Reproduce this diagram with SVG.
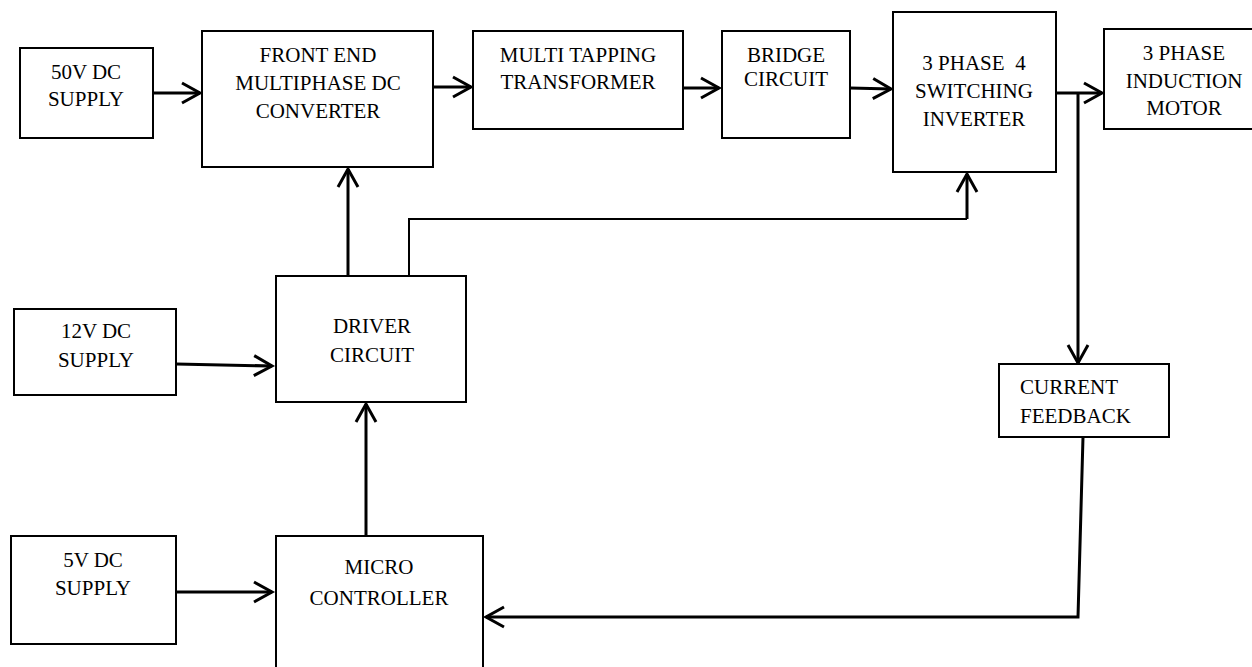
<svg xmlns="http://www.w3.org/2000/svg" width="1252" height="667" viewBox="0 0 1252 667">
<defs>
<style>
.box{fill:#fff;stroke:#000;stroke-width:2}
.t{font-family:"Liberation Serif","Times New Roman",Tinos,"DejaVu Serif",serif;font-size:21px;fill:#000;text-anchor:middle}
.tl{text-anchor:start}
.c{fill:none;stroke:#000;stroke-width:3}
.c2{fill:none;stroke:#000;stroke-width:2}
</style>
<marker id="ah" markerUnits="userSpaceOnUse" markerWidth="24" markerHeight="26" refX="20" refY="12" orient="auto">
<path d="M2,2 L20,12 L2,22" fill="none" stroke="#000" stroke-width="3"/>
</marker>
</defs>
<rect width="1252" height="667" fill="#fff"/>
<g id="connectors">
<line class="c" x1="153" y1="93" x2="200" y2="93" marker-end="url(#ah)"/>
<line class="c" x1="433" y1="87" x2="471" y2="87" marker-end="url(#ah)"/>
<line class="c" x1="683" y1="88" x2="719" y2="88" marker-end="url(#ah)"/>
<line class="c" x1="850" y1="88" x2="891" y2="89" marker-end="url(#ah)"/>
<line class="c" x1="1056" y1="93" x2="1102" y2="93" marker-end="url(#ah)"/>
<line class="c" x1="1078" y1="93" x2="1078" y2="363" marker-end="url(#ah)"/>
<polyline class="c" points="1083,437 1078,617 486,617" marker-end="url(#ah)"/>
<line class="c" x1="348" y1="276" x2="348" y2="169" marker-end="url(#ah)"/>
<polyline class="c2" points="409,276 409,219 967,219"/>
<line class="c" x1="967" y1="219" x2="967" y2="174" marker-end="url(#ah)"/>
<line class="c" x1="176" y1="364" x2="272" y2="366" marker-end="url(#ah)"/>
<line class="c" x1="366" y1="536" x2="366" y2="404" marker-end="url(#ah)"/>
<line class="c" x1="176" y1="592" x2="272" y2="592" marker-end="url(#ah)"/>
</g>
<g id="supply50">
<rect class="box" x="20" y="48" width="133" height="90"/>
<text class="t" x="86" y="79">50V DC</text>
<text class="t" x="86" y="106">SUPPLY</text>
</g>
<g id="frontend">
<rect class="box" x="202" y="31" width="231" height="136"/>
<text class="t" x="318" y="62">FRONT END</text>
<text class="t" x="318" y="90">MULTIPHASE DC</text>
<text class="t" x="318" y="118">CONVERTER</text>
</g>
<g id="transformer">
<rect class="box" x="473" y="31" width="210" height="98"/>
<text class="t" x="578" y="62">MULTI TAPPING</text>
<text class="t" x="578" y="89">TRANSFORMER</text>
</g>
<g id="bridge">
<rect class="box" x="722" y="31" width="128" height="107"/>
<text class="t" x="786" y="62">BRIDGE</text>
<text class="t" x="786" y="86">CIRCUIT</text>
</g>
<g id="inverter">
<rect class="box" x="893" y="12" width="163" height="160"/>
<text class="t" x="974" y="70" xml:space="preserve">3 PHASE  4</text>
<text class="t" x="974" y="98">SWITCHING</text>
<text class="t" x="974" y="126">INVERTER</text>
</g>
<g id="motor">
<rect class="box" x="1104" y="29" width="160" height="100"/>
<text class="t" x="1184" y="60">3 PHASE</text>
<text class="t" x="1184" y="88">INDUCTION</text>
<text class="t" x="1184" y="115">MOTOR</text>
</g>
<g id="feedback">
<rect class="box" x="999" y="364" width="170" height="73"/>
<text class="t tl" x="1020" y="394">CURRENT</text>
<text class="t tl" x="1020" y="423">FEEDBACK</text>
</g>
<g id="driver">
<rect class="box" x="276" y="276" width="190" height="126"/>
<text class="t" x="372" y="333">DRIVER</text>
<text class="t" x="372" y="362">CIRCUIT</text>
</g>
<g id="supply12">
<rect class="box" x="14" y="309" width="162" height="86"/>
<text class="t" x="96" y="338">12V DC</text>
<text class="t" x="96" y="367">SUPPLY</text>
</g>
<g id="supply5">
<rect class="box" x="11" y="536" width="165" height="108"/>
<text class="t" x="93" y="567">5V DC</text>
<text class="t" x="93" y="595">SUPPLY</text>
</g>
<g id="micro">
<rect class="box" x="276" y="536" width="207" height="150"/>
<text class="t" x="379" y="574">MICRO</text>
<text class="t" x="379" y="605">CONTROLLER</text>
</g>
</svg>
